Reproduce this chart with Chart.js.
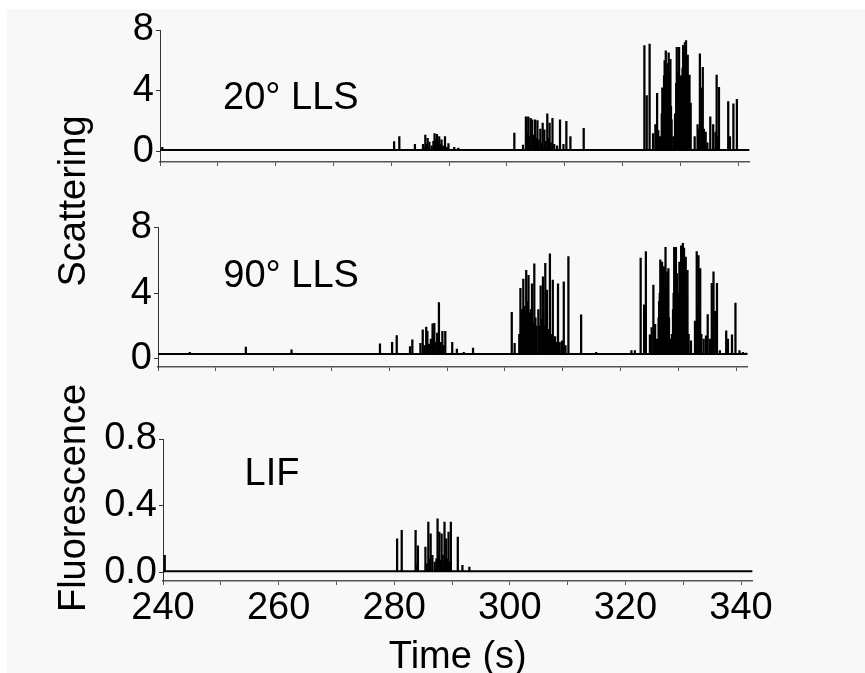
<!DOCTYPE html>
<html>
<head>
<meta charset="utf-8">
<script src="https://cdn.jsdelivr.net/npm/chart.js@4.4.1/dist/chart.umd.min.js"></script>
<style>
body { margin: 0; width: 865px; height: 673px; overflow: hidden; position: relative; background: #fff; font-family: "Liberation Sans", Arial, sans-serif; }
#bg { position: absolute; left: 7px; top: 9px; right: 0; bottom: 0; background: #f8f8f8; }
canvas { position: absolute; left: 0; }
.ytitle { position: absolute; font-size: 38px; color: #000; white-space: nowrap; transform: translate(-50%, -50%) rotate(-90deg); }
</style>
</head>
<body>
<div id="bg"></div>
<canvas id="topChart" width="865" height="172" style="top:0px"></canvas>
<canvas id="midChart" width="865" height="177" style="top:200px"></canvas>
<canvas id="botChart" width="865" height="300" style="top:380px"></canvas>
<div class="ytitle" style="left:72px; top:201px;">Scattering</div>
<div class="ytitle" style="left:72px; top:498px;">Fluorescence</div>
<script>
// ==============================
// Data
// ==============================

const xTicks = [240, 250, 260, 270, 280, 290, 300, 310, 320, 330, 340];
const xLabels = [240, 260, 280, 300, 320, 340];

const scatterTicks = [0, 2, 4, 6, 8];
const scatterLabels = [0, 4, 8];
const lifTicks = [0, 0.2, 0.4, 0.6, 0.8];
const lifLabels = [0, 0.4, 0.8];

// 20° LLS
const lls20Base = 0.13;
const lls20Time = [
    240.4,
    280.5, 281.4, 283.8, 284.1, 285.5, 285.7, 285.9, 286.1, 286.3, 286.6, 287.0, 287.3, 287.5, 287.7, 287.9,
    288.1, 288.3, 288.5, 288.7, 289.0, 289.3, 289.6, 289.9, 290.9, 291.6, 294.5,
    301.3, 302.8, 303.3, 303.5, 303.7, 303.9, 304.1, 304.4, 304.6, 304.9, 305.1, 305.3, 305.5, 305.8, 306.0,
    306.2, 306.5, 306.7, 307.0, 307.2, 307.4, 307.6, 307.9, 308.2, 308.7, 309.2, 309.8, 310.3, 311.0, 313.3,
    323.8, 324.2, 324.7, 325.3, 325.7, 326.0, 326.2, 326.5, 326.8, 326.9, 327.1, 327.2, 327.3, 327.4, 327.5,
    327.6, 327.7, 327.8, 327.9, 328.0, 328.1, 328.2, 328.3, 328.4, 328.5, 328.8, 329.1, 329.3, 329.4, 329.5,
    329.6, 329.7, 329.8, 329.9, 330.0, 330.1, 330.2, 330.3, 330.4, 330.5, 330.6, 330.7, 330.8, 330.9, 331.0,
    331.1, 331.2, 331.3, 331.4, 331.5, 331.6, 331.7, 331.8, 332.5, 333.0, 333.2, 333.4, 333.5, 333.6, 333.7,
    333.9, 334.1, 334.4, 334.7, 335.2, 335.7, 336.1, 336.3, 336.5, 336.7, 338.3, 338.6, 339.2, 339.8
];
const lls20Value = [
    0.3,
    0.68, 1.0, 0.15, 0.5, 0.5, 0.3, 1.1, 0.5, 0.9, 0.65, 0.4, 0.7, 1.2, 0.8, 1.15,
    0.6, 1.0, 0.5, 0.8, 0.4, 1.0, 0.3, 0.55, 0.3, 0.25, 0.1,
    1.23, 0.45, 2.3, 1.2, 2.3, 1.0, 2.2, 2.1, 1.1, 2.1, 0.9, 2.05, 0.8, 1.5, 0.6,
    1.9, 1.45, 0.7, 2.5, 0.9, 1.9, 0.6, 2.2, 0.5, 0.4, 2.1, 0.5, 2.0, 1.0, 1.55,
    6.97, 3.7, 7.08, 1.2, 1.8, 3.85, 1.4, 1.0, 2.5, 4.2, 3.85, 5.0, 6.0, 5.5, 6.64,
    5.2, 4.8, 5.8, 5.5, 6.5, 5.0, 4.6, 6.07, 3.0, 2.1, 1.0, 2.5, 4.5, 6.86, 5.0,
    4.6, 5.2, 6.86, 5.0, 4.9, 4.5, 5.0, 3.95, 5.5, 7.0, 6.0, 5.5, 7.17, 6.0, 7.3,
    5.6, 4.8, 6.36, 5.0, 4.2, 5.05, 3.0, 3.2, 1.0, 1.8, 1.5, 6.43, 3.0, 4.2, 2.0,
    5.55, 1.5, 1.3, 0.6, 2.3, 1.8, 1.3, 5.05, 1.0, 4.24, 3.3, 1.0, 3.15, 3.45
];

// 90° LLS
const lls90Base = 0.3;
const lls90Time = [
    245.5, 255.2, 263.1, 278.4,
    280.5, 281.3, 283.6, 284.0, 285.4, 285.8, 286.1, 286.4, 286.6, 286.9, 287.2, 287.5, 287.7, 287.8, 288.0,
    288.3, 288.6, 288.9, 289.2, 289.4, 289.7, 290.9, 291.7, 292.9, 294.5,
    301.2, 301.7, 302.5, 302.7, 302.9, 303.0, 303.2, 303.4, 303.5, 303.7, 303.9, 304.1, 304.3, 304.5, 304.7,
    304.9, 305.1, 305.3, 305.5, 305.8, 306.0, 306.2, 306.4, 306.6, 306.8, 307.0, 307.1, 307.3, 307.5, 307.8,
    308.0, 308.3, 308.5, 308.7, 308.9, 309.2, 309.5, 309.9, 310.2, 310.5, 311.0, 313.2, 315.8,
    321.9, 322.5, 323.5, 324.1, 324.4, 325.1, 325.4, 325.7, 326.0, 326.3, 326.6, 326.7, 326.8, 326.9, 327.0,
    327.1, 327.2, 327.3, 327.4, 327.5, 327.6, 327.7, 327.8, 327.9, 328.0, 328.1, 328.2, 328.3, 328.4, 328.6,
    328.9, 329.1, 329.2, 329.3, 329.4, 329.5, 329.6, 329.7, 329.8, 329.9, 330.0, 330.2, 330.3, 330.4, 330.5,
    330.6, 330.7, 330.8, 330.9, 331.0, 331.1, 331.2, 331.3, 331.4, 331.5, 331.6, 331.8, 332.2, 332.9, 333.2,
    333.3, 333.5, 333.6, 333.8, 334.0, 334.4, 334.8, 335.1, 335.5, 335.8, 336.0, 336.1, 336.4, 336.7, 337.2,
    338.3, 338.6, 339.3, 339.9, 340.6, 341.2, 341.8
];
const lls90Value = [
    0.4, 0.71, 0.55, 0.91,
    1.0, 1.42, 0.75, 1.16, 0.95, 1.77, 0.8, 1.93, 1.67, 0.9, 1.2, 2.13, 1.3, 2.17, 1.0,
    1.57, 3.43, 1.0, 1.67, 0.8, 1.67, 1.0, 0.6, 0.4, 0.65,
    2.83, 0.95, 1.5, 4.3, 2.5, 3.0, 4.86, 3.2, 2.5, 5.4, 3.5, 5.1, 2.8, 3.0, 4.57,
    2.2, 5.8, 2.5, 2.0, 3.0, 2.0, 4.45, 2.4, 5.0, 2.0, 5.83, 2.5, 4.2, 1.8, 6.4,
    1.5, 4.8, 1.2, 1.36, 1.0, 4.57, 1.0, 1.1, 4.7, 0.8, 6.24, 2.68, 0.4,
    0.5, 0.5, 6.14, 3.3, 6.54, 1.46, 1.9, 4.5, 2.1, 1.2, 2.5, 3.5, 4.0, 6.04, 4.2,
    3.8, 5.9, 4.0, 4.5, 5.63, 4.2, 3.6, 6.8, 4.4, 3.9, 5.3, 4.0, 5.5, 2.5, 1.2,
    1.5, 3.0, 4.0, 6.8, 4.4, 4.0, 6.8, 4.2, 5.2, 4.0, 3.8, 5.9, 4.2, 4.5, 6.9,
    4.3, 5.0, 7.05, 4.8, 6.75, 4.2, 4.0, 6.2, 3.8, 3.5, 5.4, 1.5, 1.1, 2.3, 6.54,
    3.0, 6.3, 2.8, 5.5, 1.5, 1.2, 1.4, 2.7, 1.2, 4.6, 2.0, 5.3, 2.9, 4.6, 0.5,
    1.7, 1.2, 1.46, 3.4, 0.5, 0.4, 0.35
];

// LIF
const lifBase = 0.005;
const lifTime = [
    240.3,
    280.5, 281.3, 283.7, 284.0, 284.1, 285.4, 285.6, 285.9, 286.1, 286.3, 286.6, 287.0, 287.3, 287.5, 287.7,
    287.8, 288.0, 288.2, 288.4, 288.7, 288.8, 289.0, 289.2, 289.4, 289.6, 289.8, 291.0, 291.8, 293.0
];
const lifValue = [
    0.1,
    0.2, 0.25, 0.25, 0.05, 0.157, 0.15, 0.05, 0.3, 0.08, 0.23, 0.1, 0.06, 0.08, 0.32, 0.1,
    0.24, 0.07, 0.23, 0.1, 0.3, 0.08, 0.2, 0.08, 0.24, 0.06, 0.3, 0.21, 0.04, 0.03
];

// ==============================
// Chart setup
// ==============================

const FONT = '"Liberation Sans", Arial, sans-serif';
Chart.defaults.font.family = FONT;
Chart.defaults.color = "#000";

const panelLabel = {
    id: "panelLabel",
    afterDatasetsDraw(chart, args, opts) {
        const ctx = chart.ctx;
        ctx.save();
        ctx.font = "38px " + FONT;
        ctx.fillStyle = "#000";
        ctx.textAlign = "left";
        ctx.textBaseline = "middle";
        ctx.fillText(opts.text, chart.scales.x.getPixelForValue(opts.x), chart.scales.y.getPixelForValue(opts.y));
        ctx.restore();
    }
};

// no extra room for overhanging tick labels, the panels are placed by hand
function fixBox(a, size) {
    if (a.isHorizontal()) a.height = size;
    else a.width = size;
    a.paddingTop = 0;
    a.paddingBottom = 0;
    a.paddingLeft = 0;
    a.paddingRight = 0;
}

function makePanel(id, p) {

    const points = p.time.map((t, i) => ({ x: t, y: p.value[i] }));

    return new Chart(document.getElementById(id), {
        type: "bar",
        data: {
            datasets: [
                {
                    type: "line",
                    data: [{ x: 240, y: p.base }, { x: 342, y: p.base }],
                    borderColor: "#000",
                    borderWidth: 2,
                    pointRadius: 0
                },
                {
                    type: "bar",
                    data: points,
                    backgroundColor: "#000",
                    barThickness: 1.6,
                    base: p.base,
                    grouped: false
                }
            ]
        },
        options: {
            responsive: false,
            animation: false,
            layout: { padding: { top: p.padTop, right: p.padRight, left: 0, bottom: 0 } },
            plugins: {
                legend: { display: false },
                tooltip: { enabled: false },
                panelLabel: p.label
            },
            scales: {
                x: {
                    type: "linear",
                    min: 240,
                    max: 342,
                    offset: false,
                    afterBuildTicks: a => { a.ticks = xTicks.map(v => ({ value: v })); },
                    afterFit: a => fixBox(a, p.xHeight),
                    grid: { drawOnChartArea: false, offset: false, tickLength: 4, color: "#555" },
                    border: { color: "#555", width: 1.5 },
                    ticks: {
                        display: p.showX,
                        autoSkip: false,
                        maxRotation: 0,
                        padding: 1,
                        font: { size: 38 },
                        callback: v => xLabels.includes(v) ? String(v) : ""
                    },
                    title: {
                        display: p.showX,
                        text: "Time (s)",
                        font: { size: 38 },
                        padding: { top: 0, bottom: 0 }
                    }
                },
                y: {
                    min: p.yMin,
                    max: p.yMax,
                    afterBuildTicks: a => { a.ticks = p.yTicks.map(v => ({ value: v })); },
                    afterFit: a => fixBox(a, p.yWidth),
                    grid: { drawOnChartArea: false, tickLength: 4, color: "#333" },
                    border: { color: "#333", width: 1 },
                    ticks: {
                        padding: 2,
                        font: { size: 38 },
                        callback: v => p.yLabels.includes(v) ? p.fmt(v) : ""
                    }
                }
            }
        },
        plugins: [panelLabel]
    });
}

makePanel("topChart", {
    time: lls20Time, value: lls20Value, base: lls20Base,
    yMin: -0.66, yMax: 8, yTicks: scatterTicks, yLabels: scatterLabels, fmt: v => String(v),
    yWidth: 160, padTop: 30, padRight: 115.4, xHeight: 10, showX: false,
    label: { text: "20° LLS", x: 250.9, y: 3.5 }
});

makePanel("midChart", {
    time: lls90Time, value: lls90Value, base: lls90Base,
    yMin: -0.5, yMax: 8, yTicks: scatterTicks, yLabels: scatterLabels, fmt: v => String(v),
    yWidth: 158, padTop: 27.7, padRight: 117.4, xHeight: 10, showX: false,
    label: { text: "90° LLS", x: 251.3, y: 5.0 }
});

makePanel("botChart", {
    time: lifTime, value: lifValue, base: lifBase,
    yMin: -0.054, yMax: 0.8, yTicks: lifTicks, yLabels: lifLabels, fmt: v => v.toFixed(1),
    yWidth: 163, padTop: 59, padRight: 112.4, xHeight: 99, showX: true,
    label: { text: "LIF", x: 254.1, y: 0.585 }
});
</script>
</body>
</html>
